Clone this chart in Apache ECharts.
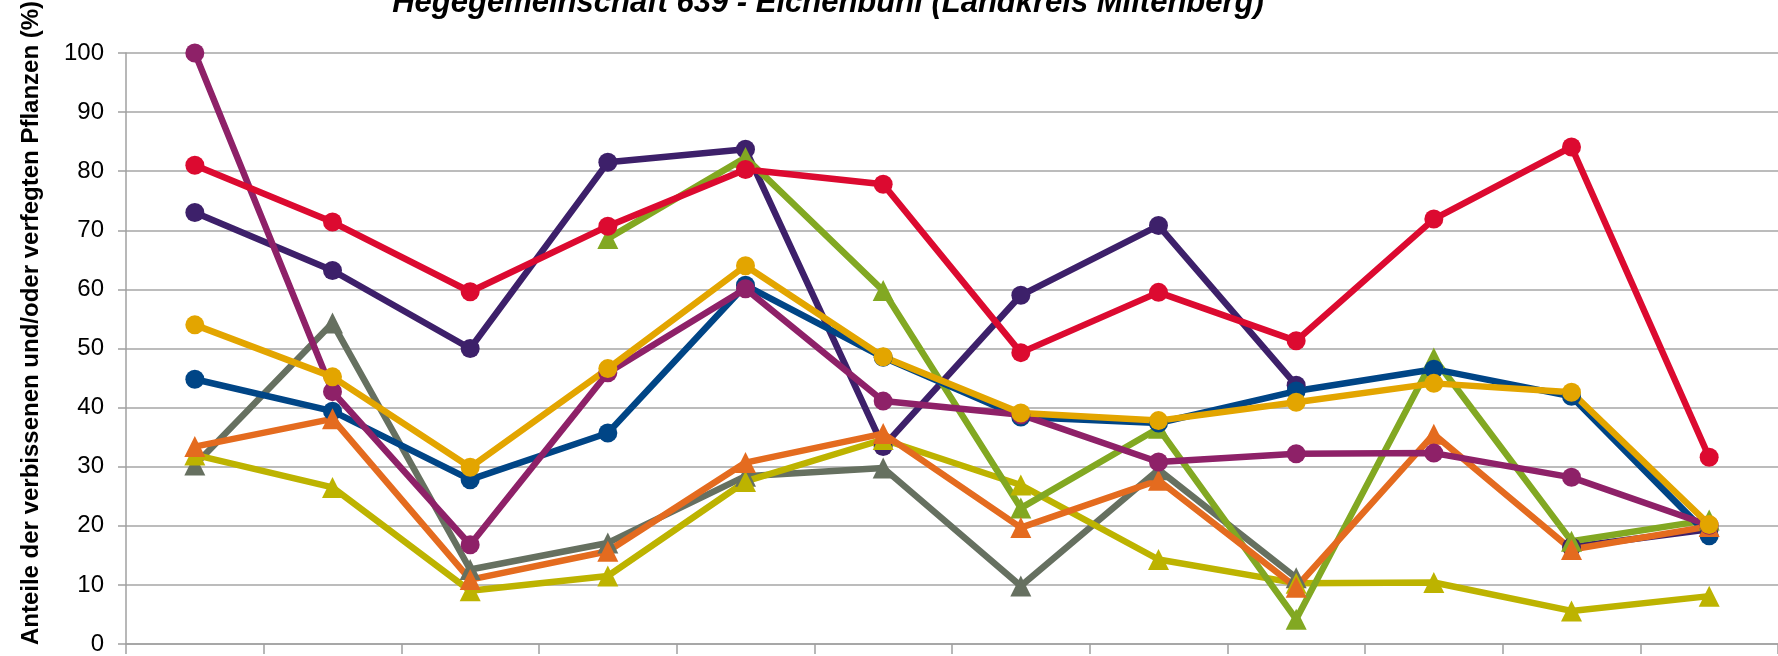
<!DOCTYPE html>
<html>
<head>
<meta charset="utf-8">
<script src="https://cdn.jsdelivr.net/npm/echarts@6/dist/echarts.min.js"></script>
<style>
html,body{margin:0;padding:0;background:#fff;}
#chart{width:1778px;height:656px;}
</style>
</head>
<body>
<div id="chart"></div>
<script>
const titleText = 'Hegegemeinschaft 639 - Eichenbühl (Landkreis Miltenberg)';
const yAxisTitle = 'Anteile der verbissenen und/oder verfegten Pflanzen (%)';
const categories = ['1','2','3','4','5','6','7','8','9','10','11','12'];

const darkPurple = [73.0, 63.2, 50.0, 81.5, 83.7, 33.4, 59.0, 70.8, 43.8, null, 16.4, 19.4];
const grayGreen  = [30.3, 54.3, 12.6, 17.1, 28.4, 29.8, 9.8, 29.5, 11.2, null, null, null];
const yellow     = [32.0, 26.5, 9.0, 11.5, 27.5, 34.6, 26.9, 14.3, 10.3, 10.4, 5.6, 8.1];
const green      = [null, null, null, 68.6, 82.3, 59.8, 23.0, 36.5, 4.2, 48.4, 17.4, 21.0];
const blue       = [44.8, 39.4, 27.8, 35.7, 60.7, 48.5, 38.4, 37.4, 42.8, 46.5, 41.9, 18.3];
const orange     = [33.4, 38.1, 10.9, 15.7, 30.7, 35.6, 19.7, 27.7, 9.6, 35.5, 16.0, 19.9];
const magenta    = [100.0, 42.7, 16.8, 45.9, 60.1, 41.1, 38.8, 30.8, 32.2, 32.3, 28.2, 20.1];
const gold       = [54.0, 45.2, 29.9, 46.6, 64.0, 48.6, 39.1, 37.8, 40.9, 44.1, 42.6, 20.2];
const red        = [81.0, 71.4, 59.6, 70.7, 80.3, 77.8, 49.3, 59.5, 51.3, 71.9, 84.1, 31.6];

const seriesDefs = [
  {name: 'S1', data: darkPurple, color: '#3D206A', symbol: 'circle'},
  {name: 'S2', data: grayGreen,  color: '#667060', symbol: 'triangle'},
  {name: 'S3', data: yellow,     color: '#BDB300', symbol: 'triangle'},
  {name: 'S4', data: green,      color: '#82A822', symbol: 'triangle'},
  {name: 'S5', data: blue,       color: '#004586', symbol: 'circle'},
  {name: 'S6', data: orange,     color: '#E46B1F', symbol: 'triangle'},
  {name: 'S7', data: magenta,    color: '#8E2168', symbol: 'circle'},
  {name: 'S8', data: gold,       color: '#E3A500', symbol: 'circle'},
  {name: 'S9', data: red,        color: '#DC0A30', symbol: 'circle'}
];

const chart = echarts.init(document.getElementById('chart'), null, {renderer: 'canvas'});
chart.setOption({
  animation: false,
  backgroundColor: '#ffffff',
  grid: {left: 126, right: -15, top: 53, bottom: 10, containLabel: false},
  xAxis: {
    type: 'category',
    data: categories,
    boundaryGap: true,
    axisLine: {show: true, lineStyle: {color: '#A0A0A0', width: 1.5}},
    axisTick: {show: true, interval: 0, length: 10, lineStyle: {color: '#A0A0A0', width: 1.5}},
    axisLabel: {show: false},
    splitLine: {show: false}
  },
  yAxis: {
    type: 'value',
    min: 0, max: 100, interval: 10,
    axisLine: {show: true, lineStyle: {color: '#A0A0A0', width: 1.5}},
    axisTick: {show: true, length: 8, lineStyle: {color: '#A0A0A0', width: 1.5}},
    axisLabel: {show: true, margin: 22, color: '#000', fontSize: 24, fontFamily: 'Liberation Sans'},
    splitLine: {show: true, lineStyle: {color: '#A6A6A6', width: 1.5}}
  },
  graphic: [
    {type: 'text', x: 828, y: 3, style: {text: titleText, fill: '#000', font: 'italic bold 31px "Liberation Sans"', textAlign: 'center', textVerticalAlign: 'middle'}},
    {type: 'text', x: 31, y: 323, rotation: Math.PI / 2, style: {text: yAxisTitle, fill: '#000', font: 'bold 24px "Liberation Sans"', textAlign: 'center', textVerticalAlign: 'middle'}}
  ],
  series: seriesDefs.map(s => ({
    name: s.name,
    type: 'line',
    data: s.data,
    symbol: s.symbol,
    symbolSize: s.symbol === 'circle' ? 19 : 21,
    showSymbol: true,
    connectNulls: false,
    lineStyle: {color: s.color, width: 6.5},
    itemStyle: {color: s.color, borderWidth: 0},
    emphasis: {disabled: true}
  }))
});
</script>
</body>
</html>
